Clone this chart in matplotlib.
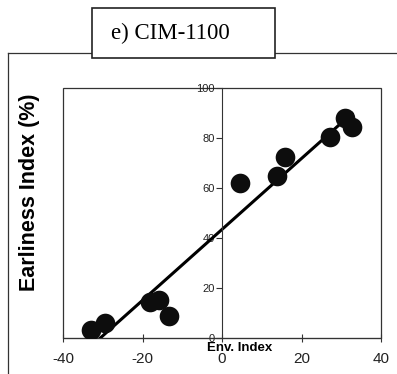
import numpy as np
import matplotlib
matplotlib.use("Agg")
import matplotlib.pyplot as plt
from matplotlib.patches import Rectangle

# Data
env_index = [-33.0, -29.4, -18.1, -15.8, -13.3, 4.5, 13.8, 15.8, 27.2, 31.0, 32.7]
earliness = [3.2, 6.0, 14.4, 15.2, 8.8, 62.0, 64.8, 72.4, 80.4, 88.0, 84.4]
x_ticks = [-40, -20, 0, 20, 40]
y_ticks = [0, 20, 40, 60, 80, 100]
title = "e) CIM-1100"

plt.rcParams["font.family"] = ["Liberation Sans", "DejaVu Sans"]

fig = plt.figure(figsize=(3.97, 3.74), dpi=100)
fig.patch.set_facecolor("white")

# outer panel frame (top and left lines)
fig.add_artist(plt.Line2D([8 / 397, 1.0], [1 - 53 / 374, 1 - 53 / 374],
                          transform=fig.transFigure, color="#333333", lw=0.9))
fig.add_artist(plt.Line2D([8 / 397, 8 / 397], [0, 1 - 53 / 374],
                          transform=fig.transFigure, color="#333333", lw=0.9))

# title box
fig.add_artist(Rectangle((92 / 397, 1 - 58 / 374), 183 / 397, 50 / 374,
                         transform=fig.transFigure, facecolor="white",
                         edgecolor="#222222", lw=1.2, zorder=5))
fig.text(170 / 397, 1 - 33 / 374, title, family="Liberation Serif",
         fontsize=16.5, ha="center", va="center", zorder=6)

ax = fig.add_axes([63 / 397, 36 / 374, 318 / 397, 250 / 374])
x = np.array(env_index)
y = np.array(earliness)

coef = np.polyfit(x, y, 1)
xs = np.linspace(x.min(), x.max(), 200)
ax.plot(xs, np.polyval(coef, xs), color="black", lw=2.2, zorder=2)
ax.scatter(x, y, s=200, color="#0d0d0d", zorder=3, linewidths=0)

ax.set_xlim(-40, 40)
ax.set_ylim(0, 100)

# spines: y axis through x=0, box drawn around
ax.spines["left"].set_position(("data", 0))
for s in ["right", "top"]:
    ax.spines[s].set_visible(False)
ax.spines["left"].set_color("#333333")
ax.spines["bottom"].set_color("#333333")
ax.add_patch(Rectangle((0, 0), 1, 1, transform=ax.transAxes, fill=False,
                       edgecolor="#333333", lw=0.9, clip_on=False))

ax.set_yticks(y_ticks)
ax.set_yticklabels([str(v) for v in y_ticks], fontsize=8, color="#222222")
ax.tick_params(axis="y", direction="out", length=4, pad=1, color="#333333")

ax.set_xticks(x_ticks)
ax.set_xticklabels([str(v) for v in x_ticks], fontsize=11, color="#222222")
ax.tick_params(axis="x", direction="inout", length=6, pad=7, color="#333333")

ax.text(0.555, -0.04, "Env. Index", transform=ax.transAxes, fontsize=9.5,
        fontweight="bold", ha="center", va="center")
fig.text(30 / 397, 1 - 192 / 374, "Earliness Index (%)", rotation=90,
         fontsize=15.5, fontweight="bold", ha="center", va="center")

fig.savefig("out.png", dpi=100)
